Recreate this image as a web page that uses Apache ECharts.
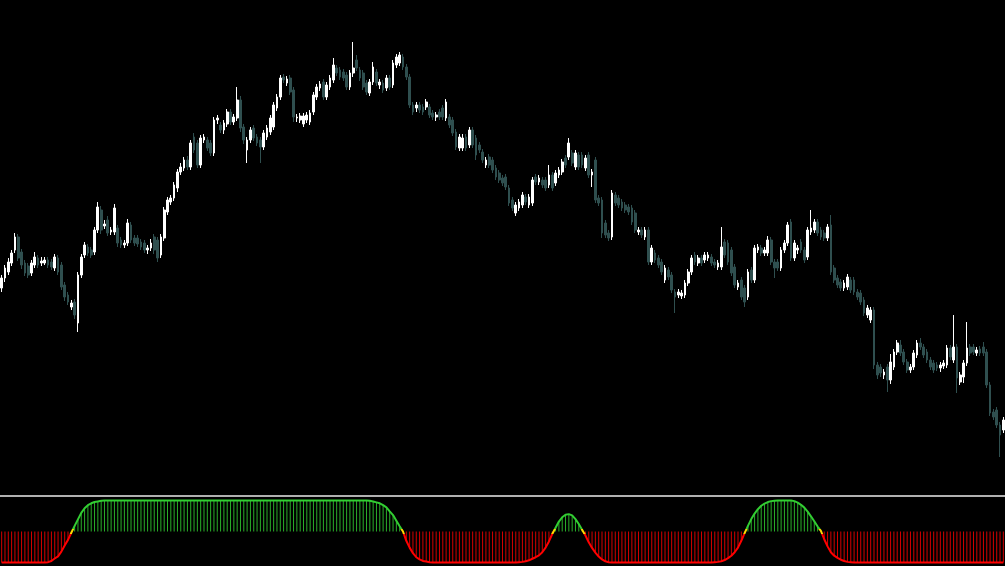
<!DOCTYPE html>
<html>
<head>
<meta charset="utf-8">
<script src="https://cdn.jsdelivr.net/npm/echarts@6/dist/echarts.min.js"></script>
<style>
html,body{margin:0;padding:0;background:#000;}
#chart{width:1005px;height:566px;}
</style>
</head>
<body>
<div id="chart"></div>
<script>
// Price candles: [open, close, low, high] (price points)
const candles = [
[212,222,208,225],[222,232,218,235],[228,238,225,242],[237,247,234,250],[250,263,247,267],
[263,242,239,266],[248,235,231,251],[237,227,224,240],[234,225,222,237],[227,237,224,240],
[235,243,232,248],[242,235,232,245],[237,239,234,243],[237,240,235,243],[240,235,232,243],
[238,233,230,241],[232,243,229,246],[242,228,225,245],[235,213,210,238],[215,203,199,218],
[205,198,195,208],[193,197,190,200],[198,185,181,201],[177,225,168,228],[225,243,222,246],
[245,255,242,258],[253,247,244,256],[250,245,242,253],[248,270,245,273],[270,293,267,298],
[290,270,266,294],[274,276,271,280],[280,267,264,284],[268,270,265,273],[268,292,265,296],
[272,257,253,275],[260,255,252,263],[255,257,252,260],[257,277,254,281],[275,260,257,278],
[262,257,254,265],[262,256,253,265],[258,253,250,261],[257,250,247,260],[250,252,246,255],
[252,257,249,261],[263,250,246,266],[260,242,238,263],[245,263,242,266],[262,290,259,293],
[288,300,285,303],[298,302,295,305],[302,315,299,318],[312,328,308,331],[328,333,325,337],
[332,340,329,343],[340,333,330,344],[333,357,330,360],[363,350,347,367],[357,335,332,360],
[335,362,332,365],[360,363,357,366],[360,352,349,363],[357,347,344,360],[347,380,344,383],
[380,382,376,385],[375,370,367,378],[370,377,366,380],[376,388,373,391],[388,378,375,391],
[378,383,375,386],[382,400,379,413],[400,372,368,404],[373,360,356,376],[350,360,337,363],
[360,370,357,373],[372,362,359,375],[363,357,354,366],[360,353,337,363],[353,367,350,370],
[363,372,360,375],[368,382,365,385],[373,395,370,398],[392,403,389,406],[403,422,400,425],
[423,420,417,426],[417,421,414,424],[422,408,405,425],[410,383,378,413],[382,383,378,386],
[380,384,377,387],[376,384,373,387],[380,385,377,388],[378,387,375,390],[388,405,385,408],
[403,413,400,416],[412,416,409,419],[418,403,400,421],[403,415,400,418],[413,422,410,425],
[420,435,417,442],[432,427,424,435],[430,423,420,433],[428,422,419,431],[425,413,410,428],
[413,427,410,430],[427,432,423,458],[440,432,429,445],[430,422,419,433],[427,413,410,430],
[417,408,405,420],[407,418,404,421],[418,433,415,438],[428,417,414,431],[415,418,411,421],
[417,410,407,420],[412,422,409,425],[422,413,410,425],[415,437,412,440],[435,443,432,446],
[437,445,434,448],[443,433,430,446],[433,423,420,436],[423,395,392,426],[395,388,385,398],
[392,395,388,398],[395,390,387,398],[393,388,385,396],[393,398,390,401],[393,385,382,396],
[387,383,380,390],[383,385,379,388],[388,383,380,391],[392,383,380,395],[382,398,379,401],
[383,375,372,386],[380,367,364,383],[368,353,350,371],[352,363,349,366],[352,362,349,366],
[363,352,349,366],[355,370,352,373],[370,355,352,373],[362,345,340,365],[355,350,347,358],
[348,340,337,351],[335,340,332,343],[343,335,332,346],[340,330,327,343],[332,323,320,335],
[327,320,317,330],[322,317,314,325],[323,313,310,326],[312,297,294,315],[300,292,289,303],
[287,295,284,298],[292,298,289,301],[295,305,292,308],[303,298,295,306],[295,303,292,306],
[297,320,294,323],[323,318,315,326],[318,322,315,325],[320,315,312,323],[320,312,309,323],
[315,325,312,335],[325,312,309,328],[317,327,314,330],[325,330,322,333],[328,338,325,341],
[342,335,332,345],[343,357,340,362],[347,337,334,350],[333,347,330,350],[345,333,330,348],
[345,335,332,348],[332,342,329,345],[345,325,322,348],[325,328,313,331],[340,300,297,343],
[302,297,294,305],[300,267,262,303],[277,265,262,280],[267,262,259,270],[263,307,260,310],
[305,297,294,308],[302,295,292,305],[298,292,289,301],[295,290,287,298],[293,288,285,296],
[292,278,275,295],[287,270,267,290],[268,270,265,273],[270,265,262,273],[263,270,260,273],
[270,238,235,273],[238,252,235,255],[247,240,237,250],[242,235,232,245],[238,228,225,241],
[220,232,217,235],[230,223,220,233],[225,210,207,228],[208,203,187,211],[205,208,202,211],
[204,207,201,210],[205,217,202,220],[217,228,214,231],[228,242,225,245],[245,238,235,248],
[237,242,234,245],[242,237,234,245],[240,245,237,248],[242,245,239,248],[243,237,234,246],
[238,235,232,241],[233,237,230,240],[233,253,230,273],[258,245,242,261],[257,238,235,260],
[250,227,224,253],[233,215,212,236],[213,217,210,220],[220,203,200,223],[212,198,193,215],
[203,228,200,231],[230,220,217,233],[220,252,217,255],[250,253,247,256],[252,247,244,255],
[247,250,244,253],[247,260,244,264],[260,238,235,263],[238,232,222,241],[238,232,229,241],
[232,250,229,253],[250,257,247,260],[257,275,254,278],[278,242,239,281],[242,257,239,260],
[250,252,246,255],[258,250,247,261],[250,240,237,253],[243,270,240,273],[268,272,265,290],
[270,278,267,281],[278,267,264,281],[270,263,260,273],[267,262,259,270],[262,273,259,276],
[275,228,225,285],[232,220,217,235],[222,215,212,225],[218,212,209,221],[212,217,209,220],
[213,223,210,226],[220,210,207,223],[220,208,205,223],[208,203,200,211],[207,198,195,210],
[200,187,184,203],[185,192,182,195],[180,190,177,193],[190,135,131,193],[135,125,121,138],
[133,127,123,136],[125,128,121,131],[133,120,108,136],[120,138,116,146],[133,148,130,151],
[148,157,145,160],[155,147,144,160],[148,138,135,151],[138,130,127,141],[130,133,127,136],
[133,147,130,150],[145,157,142,160],[157,153,150,162],[153,145,142,156],[148,140,137,151],
[140,133,130,143],[137,130,127,140],[135,132,129,138],[132,135,128,138],[134,137,131,140],
[135,152,132,155],[152,143,140,155],[140,153,137,185],[153,122,107,156],[118,125,115,128],
[123,137,117,140],[137,152,134,178],[153,147,144,156],[153,148,145,156],[147,150,144,153],
[151,147,144,154],[153,147,144,158],[148,115,112,151],[115,87,84,118],[88,83,80,91],
[90,75,72,93],[75,65,43,78],[70,80,67,83]
];

// Oscillator values for each candle (-1 .. 1)
const signal = [
-1,-1,-1,-1,-1,-1,-1,-1,-1,-1,
-1,-1,-1,-1,-0.99,-0.95,-0.87,-0.8,-0.65,-0.45,
-0.27,-0.04,0.18,0.39,0.6,0.75,0.85,0.91,0.95,0.97,
0.99,1,1,1,1,1,1,1,1,1,
1,1,1,1,1,1,1,1,1,1,
1,1,1,1,1,1,1,1,1,1,
1,1,1,1,1,1,1,1,1,1,
1,1,1,1,1,1,1,1,1,1,
1,1,1,1,1,1,1,1,1,1,
1,1,1,1,1,1,1,1,1,1,
1,1,1,1,1,1,1,1,1,1,
1,0.99,0.97,0.94,0.91,0.85,0.78,0.65,0.53,0.35,
0.17,0,-0.3,-0.52,-0.7,-0.83,-0.9,-0.95,-0.97,-0.99,
-1,-1,-1,-1,-1,-1,-1,-1,-1,-1,
-1,-1,-1,-1,-1,-1,-1,-1,-1,-1,
-1,-1,-1,-1,-1,-1,-0.99,-0.98,-0.96,-0.93,
-0.88,-0.83,-0.77,-0.67,-0.52,-0.32,-0.08,0.12,0.32,0.46,
0.54,0.56,0.52,0.4,0.24,0.06,-0.13,-0.35,-0.53,-0.68,
-0.81,-0.9,-0.96,-0.99,-1,-1,-1,-1,-1,-1,
-1,-1,-1,-1,-1,-1,-1,-1,-1,-1,
-1,-1,-1,-1,-1,-1,-1,-1,-1,-1,
-1,-1,-1,-1,-1,-0.99,-0.98,-0.96,-0.92,-0.86,
-0.78,-0.67,-0.52,-0.3,-0.05,0.18,0.4,0.58,0.72,0.83,
0.9,0.95,0.98,0.99,1,1,1,1,1,0.98,
0.93,0.86,0.77,0.64,0.49,0.33,0.16,0.02,-0.25,-0.48,
-0.67,-0.78,-0.85,-0.91,-0.95,-0.98,-0.99,-1,-1,-1,
-1,-1,-1,-1,-1,-1,-1,-1,-1,-1,
-1,-1,-1,-1,-1,-1,-1,-1,-1,-1,
-1,-1,-1,-1,-1,-1,-1,-1,-1,-1,
-1,-1,-1,-1,-1,-1,-1,-1,-1,-1,
-1,-1,-1
];

const categories = candles.map((_, i) => 'Bar ' + (i + 1));

const chart = echarts.init(document.getElementById('chart'), null, {renderer: 'canvas'});
chart.setOption({
  backgroundColor: '#000000',
  animation: false,
  grid: [
    {left: 0, right: 0, top: 0, height: 496},
    {left: 0, right: 0, top: 497, height: 69}
  ],
  xAxis: [
    {type: 'category', gridIndex: 0, data: categories, boundaryGap: true,
     axisLine: {show: true, lineStyle: {color: '#b0b0b0', width: 2}},
     axisTick: {show: false}, axisLabel: {show: false}, splitLine: {show: false}},
    {type: 'category', gridIndex: 1, data: categories, boundaryGap: true,
     axisLine: {show: false}, axisTick: {show: false}, axisLabel: {show: false}, splitLine: {show: false}}
  ],
  yAxis: [
    {type: 'value', gridIndex: 0, min: 4, max: 500, show: false, splitLine: {show: false}},
    {type: 'value', gridIndex: 1, min: -1.113, max: 1.113, show: false, splitLine: {show: false}}
  ],
  visualMap: {
    type: 'piecewise', show: false, seriesIndex: 2, dimension: 1,
    pieces: [
      {lt: -0.08, color: '#ff0000'},
      {gte: -0.08, lte: 0.08, color: '#ffd700'},
      {gt: 0.08, color: '#32cd32'}
    ]
  },
  series: [
    {
      type: 'candlestick', xAxisIndex: 0, yAxisIndex: 0,
      data: candles, barWidth: 2.2,
      itemStyle: {color: '#ffffff', color0: '#2f4f4f', borderColor: '#ffffff', borderColor0: '#2f4f4f', borderWidth: 1}
    },
    {
      type: 'bar', xAxisIndex: 1, yAxisIndex: 1, data: signal, barWidth: 1,
      itemStyle: {color: p => p.value >= 0 ? '#2aae2a' : '#d40000'}
    },
    {
      type: 'line', xAxisIndex: 1, yAxisIndex: 1, data: signal, symbol: 'none',
      lineStyle: {width: 2}, z: 3
    }
  ]
});
</script>
</body>
</html>
